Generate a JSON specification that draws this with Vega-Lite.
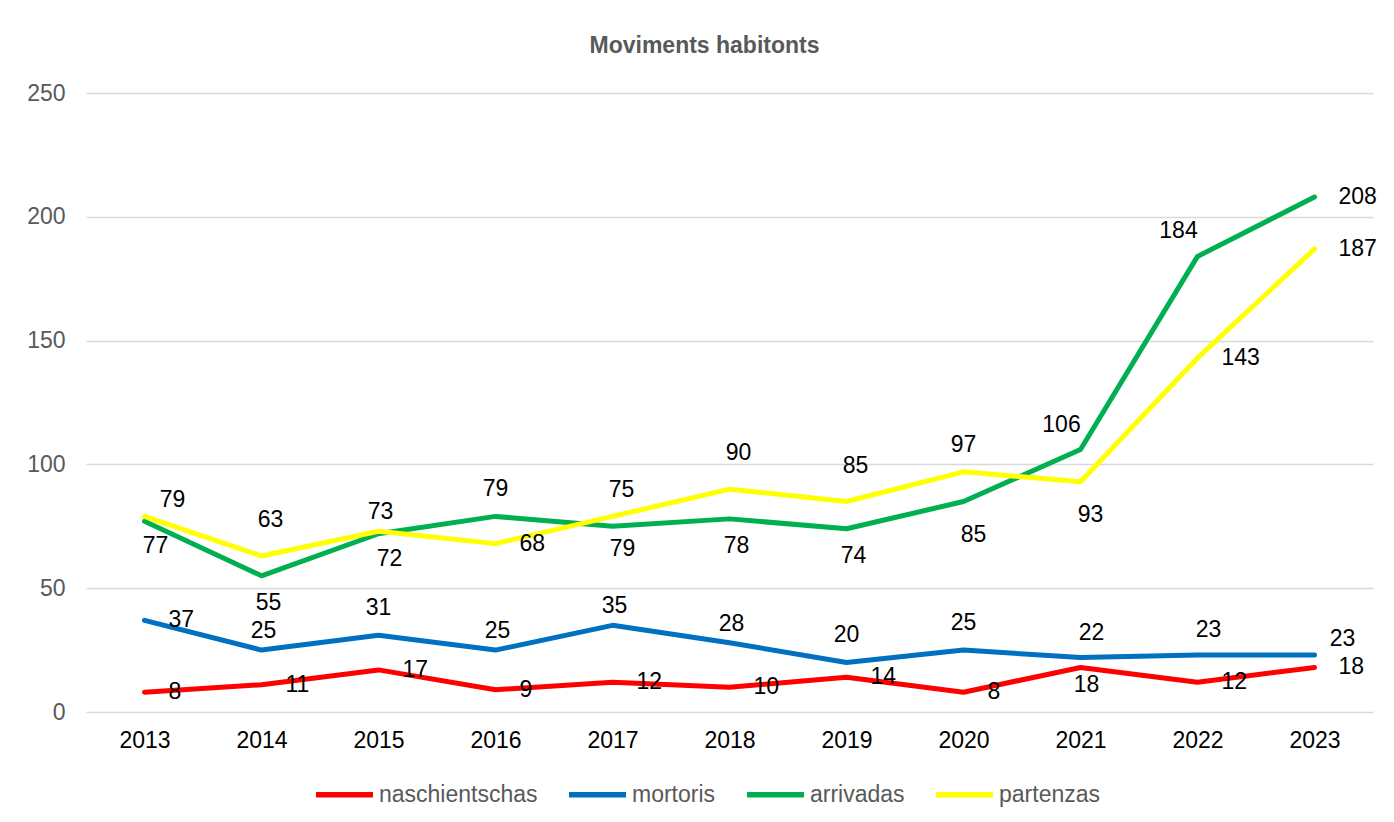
{
  "$schema": "https://vega.github.io/schema/vega-lite/v6.json",
  "width": 1287,
  "height": 619,
  "autosize": "none",
  "padding": {"left": 86, "top": 93, "right": 21, "bottom": 110},
  "background": "white",
  "config": {
    "font": "Liberation Sans",
    "view": {"stroke": null},
    "title": {"font": "Liberation Sans", "fontSize": 23, "fontWeight": "bold", "color": "#595959"}
  },
  "title": {"text": "Moviments habitonts", "anchor": "middle", "dx": -25, "offset": 24},
  "data": {
    "values": [
      {"year": "2013", "series": "naschientschas", "value": 8, "pos": "r"},
      {"year": "2014", "series": "naschientschas", "value": 11, "pos": "r"},
      {"year": "2015", "series": "naschientschas", "value": 17, "pos": "r"},
      {"year": "2016", "series": "naschientschas", "value": 9, "pos": "r"},
      {"year": "2017", "series": "naschientschas", "value": 12, "pos": "r"},
      {"year": "2018", "series": "naschientschas", "value": 10, "pos": "r"},
      {"year": "2019", "series": "naschientschas", "value": 14, "pos": "r"},
      {"year": "2020", "series": "naschientschas", "value": 8, "pos": "r"},
      {"year": "2021", "series": "naschientschas", "value": 18, "pos": "bs"},
      {"year": "2022", "series": "naschientschas", "value": 12, "pos": "r"},
      {"year": "2023", "series": "naschientschas", "value": 18, "pos": "r"},
      {"year": "2013", "series": "mortoris", "value": 37, "pos": "r"},
      {"year": "2014", "series": "mortoris", "value": 25, "pos": "t"},
      {"year": "2015", "series": "mortoris", "value": 31, "pos": "tf"},
      {"year": "2016", "series": "mortoris", "value": 25, "pos": "t"},
      {"year": "2017", "series": "mortoris", "value": 35, "pos": "t"},
      {"year": "2018", "series": "mortoris", "value": 28, "pos": "t"},
      {"year": "2019", "series": "mortoris", "value": 20, "pos": "tf"},
      {"year": "2020", "series": "mortoris", "value": 25, "pos": "tf"},
      {"year": "2021", "series": "mortoris", "value": 22, "pos": "tfr"},
      {"year": "2022", "series": "mortoris", "value": 23, "pos": "tfr"},
      {"year": "2023", "series": "mortoris", "value": 23, "pos": "tr"},
      {"year": "2013", "series": "arrivadas", "value": 77, "pos": "br"},
      {"year": "2014", "series": "arrivadas", "value": 55, "pos": "b"},
      {"year": "2015", "series": "arrivadas", "value": 72, "pos": "br"},
      {"year": "2016", "series": "arrivadas", "value": 79, "pos": "tf"},
      {"year": "2017", "series": "arrivadas", "value": 75, "pos": "tt"},
      {"year": "2018", "series": "arrivadas", "value": 78, "pos": "b"},
      {"year": "2019", "series": "arrivadas", "value": 74, "pos": "b"},
      {"year": "2020", "series": "arrivadas", "value": 85, "pos": "bb"},
      {"year": "2021", "series": "arrivadas", "value": 106, "pos": "tl"},
      {"year": "2022", "series": "arrivadas", "value": 184, "pos": "tl"},
      {"year": "2023", "series": "arrivadas", "value": 208, "pos": "r"},
      {"year": "2013", "series": "partenzas", "value": 79, "pos": "tr"},
      {"year": "2014", "series": "partenzas", "value": 63, "pos": "tt"},
      {"year": "2015", "series": "partenzas", "value": 73, "pos": "t"},
      {"year": "2016", "series": "partenzas", "value": 68, "pos": "r"},
      {"year": "2017", "series": "partenzas", "value": 79, "pos": "bb"},
      {"year": "2018", "series": "partenzas", "value": 90, "pos": "tt"},
      {"year": "2019", "series": "partenzas", "value": 85, "pos": "tt"},
      {"year": "2020", "series": "partenzas", "value": 97, "pos": "tf"},
      {"year": "2021", "series": "partenzas", "value": 93, "pos": "bb"},
      {"year": "2022", "series": "partenzas", "value": 143, "pos": "r"},
      {"year": "2023", "series": "partenzas", "value": 187, "pos": "r"}
    ]
  },
  "encoding": {
    "x": {
      "field": "year", "type": "ordinal",
      "scale": {"type": "point", "padding": 0.5},
      "axis": {"title": null, "labelAngle": 0, "labelFontSize": 23, "labelColor": "#000000", "labelFont": "Liberation Sans", "ticks": false, "domain": false, "labelPadding": 17, "grid": false}
    },
    "y": {
      "field": "value", "type": "quantitative",
      "scale": {"domain": [0, 250], "nice": false, "zero": true},
      "axis": {"title": null, "values": [0, 50, 100, 150, 200, 250], "labelFontSize": 23, "labelColor": "#595959", "labelFont": "Liberation Sans", "ticks": false, "domain": false, "labelPadding": 21, "gridColor": "#D9D9D9", "gridWidth": 1.5}
    }
  },
  "layer": [
    {
      "mark": {"type": "line", "strokeWidth": 5, "strokeCap": "round", "strokeJoin": "round"},
      "encoding": {
        "color": {
          "field": "series", "type": "nominal",
          "scale": {"domain": ["naschientschas", "mortoris", "arrivadas", "partenzas"], "range": ["#FF0000", "#0070C0", "#00B050", "#FFFF00"]},
          "legend": {
            "title": null, "orient": "none", "direction": "horizontal", "legendX": 227, "legendY": 670,
            "symbolType": "stroke", "symbolSize": 3249, "symbolStrokeWidth": 5.5,
            "labelFontSize": 23, "labelColor": "#595959", "labelFont": "Liberation Sans", "labelOffset": 3, "columnPadding": 20
          }
        }
      }
    },
    {"transform": [{"filter": "datum.pos === 'r'"}], "mark": {"type": "text", "align": "left", "baseline": "middle", "dx": 24, "dy": 0, "fontSize": 23, "color": "#000000"}, "encoding": {"text": {"field": "value", "type": "quantitative"}}},
    {"transform": [{"filter": "datum.pos === 't'"}], "mark": {"type": "text", "align": "center", "baseline": "middle", "dx": 2, "dy": -19, "fontSize": 23, "color": "#000000"}, "encoding": {"text": {"field": "value", "type": "quantitative"}}},
    {"transform": [{"filter": "datum.pos === 'tf'"}], "mark": {"type": "text", "align": "center", "baseline": "middle", "dx": 0, "dy": -27, "fontSize": 23, "color": "#000000"}, "encoding": {"text": {"field": "value", "type": "quantitative"}}},
    {"transform": [{"filter": "datum.pos === 'tfr'"}], "mark": {"type": "text", "align": "center", "baseline": "middle", "dx": 11, "dy": -25, "fontSize": 23, "color": "#000000"}, "encoding": {"text": {"field": "value", "type": "quantitative"}}},
    {"transform": [{"filter": "datum.pos === 'tr'"}], "mark": {"type": "text", "align": "center", "baseline": "middle", "dx": 28, "dy": -16, "fontSize": 23, "color": "#000000"}, "encoding": {"text": {"field": "value", "type": "quantitative"}}},
    {"transform": [{"filter": "datum.pos === 'tt'"}], "mark": {"type": "text", "align": "center", "baseline": "middle", "dx": 9, "dy": -36, "fontSize": 23, "color": "#000000"}, "encoding": {"text": {"field": "value", "type": "quantitative"}}},
    {"transform": [{"filter": "datum.pos === 'tl'"}], "mark": {"type": "text", "align": "center", "baseline": "middle", "dx": -19, "dy": -25, "fontSize": 23, "color": "#000000"}, "encoding": {"text": {"field": "value", "type": "quantitative"}}},
    {"transform": [{"filter": "datum.pos === 'b'"}], "mark": {"type": "text", "align": "center", "baseline": "middle", "dx": 7, "dy": 27, "fontSize": 23, "color": "#000000"}, "encoding": {"text": {"field": "value", "type": "quantitative"}}},
    {"transform": [{"filter": "datum.pos === 'bs'"}], "mark": {"type": "text", "align": "center", "baseline": "middle", "dx": 6, "dy": 18, "fontSize": 23, "color": "#000000"}, "encoding": {"text": {"field": "value", "type": "quantitative"}}},
    {"transform": [{"filter": "datum.pos === 'br'"}], "mark": {"type": "text", "align": "center", "baseline": "middle", "dx": 11, "dy": 25, "fontSize": 23, "color": "#000000"}, "encoding": {"text": {"field": "value", "type": "quantitative"}}},
    {"transform": [{"filter": "datum.pos === 'bb'"}], "mark": {"type": "text", "align": "center", "baseline": "middle", "dx": 10, "dy": 33, "fontSize": 23, "color": "#000000"}, "encoding": {"text": {"field": "value", "type": "quantitative"}}}
  ]
}
